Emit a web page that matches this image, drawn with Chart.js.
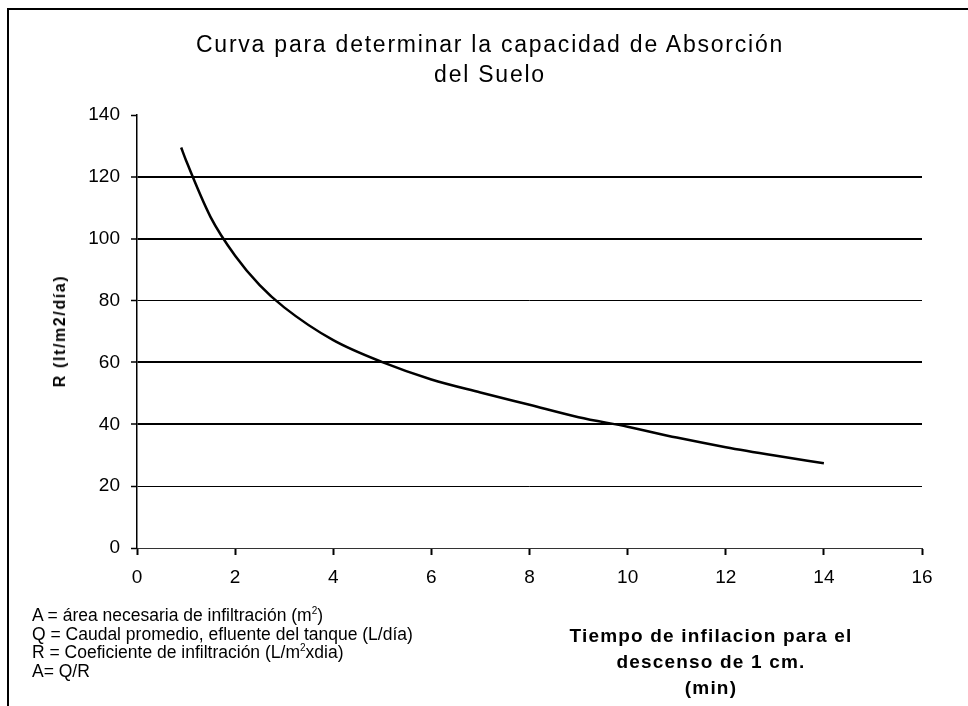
<!DOCTYPE html>
<html>
<head>
<meta charset="utf-8">
<script src="https://cdn.jsdelivr.net/npm/chart.js@4.4.0/dist/chart.umd.min.js"></script>
<style>
  html, body { margin: 0; padding: 0; background: #fff; overflow: hidden; }
  #wrap { position: relative; width: 968px; height: 706px; overflow: hidden; font-family: "Liberation Sans", Arial, sans-serif; color: #000; }
  #frame { position: absolute; left: 7px; top: 8px; width: 1100px; height: 900px; border: 2px solid #000; box-sizing: border-box; }
  canvas { position: absolute; left: 0; top: 0; }
  .txt { position: absolute; white-space: nowrap; }
  #title { left: 490px; top: 29px; transform: translateX(-50%); text-align: center; font-size: 23px; line-height: 30px; }
  #notes { left: 32px; top: 606px; font-size: 17.5px; line-height: 18.5px; }
  #notes sup { font-size: 10px; vertical-align: 7px; line-height: 0; }
  #xtitle { left: 711px; top: 623px; transform: translateX(-50%); text-align: center; font-size: 19px; font-weight: bold; line-height: 26px; }
  #ytitle { left: 60px; top: 331px; transform: translate(-50%, -50%) rotate(-90deg); font-size: 16px; font-weight: bold; }
  .line { display: block; }
  .fit { display: inline-block; }
</style>
</head>
<body>
<div id="wrap">
  <div id="frame"></div>
  <canvas id="chart" width="968" height="706"></canvas>
  <div class="txt" id="title"><span class="fit" id="t1">Curva para determinar la capacidad de Absorción</span><br><span class="fit" id="t2">del Suelo</span></div>
  <div class="txt" id="ytitle"><span class="fit" id="y1">R (lt/m2/día)</span></div>
  <div class="txt" id="notes">
    <span class="line">A = área necesaria de infiltración (m<sup>2</sup>)</span>
    <span class="line">Q = Caudal promedio, efluente del tanque (L/día)</span>
    <span class="line">R = Coeficiente de infiltración (L/m<sup>2</sup>xdia)</span>
    <span class="line">A= Q/R</span>
  </div>
  <div class="txt" id="xtitle"><span class="fit" id="x1">Tiempo de infilacion para el</span><br><span class="fit" id="x2">descenso de 1 cm.</span><br><span class="fit" id="x3">(min)</span></div>
</div>
<script>
// ---- data ----
const tiempo = [0.9, 1, 1.5, 2, 2.5, 3, 4, 5, 6, 7, 8, 9, 10, 11, 12, 13, 14];
const coefR  = [129.5, 125.3, 107, 94.5, 85, 77.8, 67.2, 60.1, 54.5, 50.3, 46.3, 42.3, 39.2, 35.7, 32.6, 29.9, 27.4];
const xTicks = [0, 2, 4, 6, 8, 10, 12, 14, 16];
const yTicks = [0, 20, 40, 60, 80, 100, 120, 140];

// fit text widths via letter-spacing
function fitWidth(ids, target) {
  const first = document.getElementById(ids[0]);
  const w = first.offsetWidth;
  const n = first.textContent.length;
  const ls = (target - w) / n;
  ids.forEach(id => { document.getElementById(id).style.letterSpacing = ls + 'px'; });
}
fitWidth(['t1', 't2'], 588);
fitWidth(['x1', 'x2', 'x3'], 283);
fitWidth(['y1'], 113);

const points = tiempo.map((t, i) => ({ x: t, y: coefR[i] }));

new Chart(document.getElementById('chart'), {
  type: 'line',
  data: {
    datasets: [{
      data: points,
      borderColor: '#000',
      borderWidth: 2.5,
      pointRadius: 0,
      fill: false,
      cubicInterpolationMode: 'monotone'
    }]
  },
  options: {
    responsive: false,
    animation: false,
    layout: { padding: { left: 77, right: 46, top: 115, bottom: 118 } },
    plugins: { legend: { display: false }, title: { display: false }, tooltip: { enabled: false } },
    scales: {
      x: {
        type: 'linear',
        min: xTicks[0],
        max: xTicks[xTicks.length - 1],
        afterBuildTicks: s => { s.ticks = xTicks.map(v => ({ value: v })); },
        afterFit: s => { s.height = 40; },
        border: { display: true, color: '#333', width: 1 },
        grid: { drawOnChartArea: false, drawTicks: true, tickLength: 7, tickColor: '#000', tickWidth: 2 },
        ticks: { color: '#000', padding: 11, font: { family: 'Liberation Sans', size: 19 } }
      },
      y: {
        type: 'linear',
        min: yTicks[0],
        max: yTicks[yTicks.length - 1],
        afterBuildTicks: s => { s.ticks = yTicks.map(v => ({ value: v })); },
        afterFit: s => { s.width = 60; },
        border: { display: true, color: '#000', width: 1.5 },
        grid: {
          drawOnChartArea: true,
          drawTicks: true,
          tickLength: 6,
          color: ctx => (ctx.tick && (ctx.tick.value === 140 || ctx.tick.value === 0)) ? 'rgba(0,0,0,0)' : '#000',
          lineWidth: ctx => (ctx.tick && [40, 60, 100, 120].includes(ctx.tick.value)) ? 2 : 1,
          tickColor: '#000',
          tickWidth: 1.5
        },
        ticks: { color: '#000', padding: 11, font: { family: 'Liberation Sans', size: 19 } }
      }
    }
  }
});
</script>
</body>
</html>
